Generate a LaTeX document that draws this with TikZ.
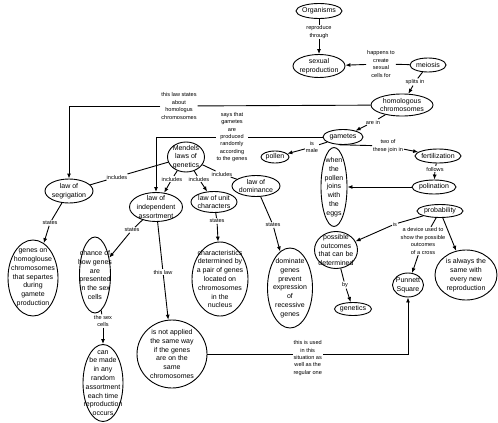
\documentclass[tikz,border=0pt]{standalone}
\usepackage{fontspec}
\setmainfont{Liberation Sans}
\usetikzlibrary{shapes.geometric, arrows.meta, positioning, calc}

\begin{document}
\begin{tikzpicture}[
    x=1pt, y=-1pt,
    concept/.style 2 args={ellipse, draw, line width=0.9pt, inner sep=0pt, minimum width=#1, minimum height=#2},
    ctext/.style={align=center, inner sep=0pt, font=\fontsize{7}{8.8}\selectfont},
    link/.style={fill=white, inner sep=0.8pt, align=center, font=\fontsize{5.6}{7.4}\selectfont},
    arrow/.style={-{Latex[length=5pt, width=4pt]}, line width=0.9pt},
    plain/.style={line width=0.9pt}
]
\useasboundingbox (0,0) rectangle (498,423);

% Nodes
\node [concept={46}{15}, label={[ctext]center:Organisms}] (org) at (319,11) {};
\node [concept={52}{23}, label={[ctext]center:{sexual\\reproduction}}] (sexrep) at (319,66) {};
\node [concept={36}{14}, label={[ctext]center:meiosis}] (meiosis) at (428,65) {};
\node [concept={62}{22}, label={[ctext]center:{homologous\\chromosomes}}] (homol) at (402,105) {};
\node [concept={40}{15}, label={[ctext]center:gametes}] (gametes) at (343,137) {};
\node [concept={28}{12}, label={[ctext]center:pollen}] (pollen) at (275,157) {};
\node [concept={46}{14}, label={[ctext]center:fertilization}] (fertil) at (438,156) {};
\node [concept={44}{14}, label={[ctext]center:polination}] (pollin) at (434,187) {};
\node [concept={26}{79}, label={[ctext]center:{when\\the\\pollen\\joins\\with\\the\\eggs}}] (when) at (334,187) {};
\node [concept={46}{13}, label={[ctext]center:probability}] (prob) at (440,211) {};
\node [concept={43}{37}, label={[ctext]center:{possible\\outcomes\\that can be\\determined}}] (possible) at (336,250) {};
\node [concept={37}{13}, label={[ctext]center:genetics}] (genetics) at (353,309) {};
\node [concept={31}{24}, label={[ctext]center:{Punnett\\Square}}] (punnett) at (408,285) {};
\node [concept={62}{50}, label={[ctext]center:{is always the\\same with\\every new\\reproduction}}] (always) at (466,275) {};

\node [concept={37}{30}, label={[ctext]center:{Mendels\\laws of\\genetics}}] (mendel) at (186,157) {};
\node [concept={48}{24}, label={[ctext]center:{law of\\segrigation}}] (lawseg) at (69,191) {};
\node [concept={53}{29}, label={[ctext]center:{law of\\independent\\assortment}}] (lawind) at (156,207) {};
\node [concept={46}{21}, label={[ctext]center:{law of unit\\characters}}] (unitch) at (214,202) {};
\node [concept={48}{21}, label={[ctext]center:{law of\\dominance}}] (lawdom) at (256,186) {};

\node [concept={50}{76}, label={[ctext]center:{genes on\\homoglouse\\chromosomes\\that separtes\\during\\gamete\\production}}] (genes) at (33,278) {};
\node [concept={31}{76}, label={[ctext]center:{chance of\\how genes\\are\\presented\\in the sex\\cells}}] (chance) at (95,275) {};
\node [concept={40}{77}, label={[ctext]center:{can\\be made\\in any\\random\\assortment\\each time\\reproduction\\occurs}}] (canbe) at (103,383) {};
\node [concept={70}{68}, label={[ctext]center:{is not applied\\the same way\\if the genes\\are on the\\same\\chromosomes}}] (notapp) at (172,354) {};
\node [concept={56}{74}, label={[ctext]center:{characteristics\\determined by\\a pair of genes\\located on\\chromosomes\\in the\\nucleus}}] (charact) at (220,279) {};
\node [concept={45}{80}, label={[ctext]center:{dominate\\genes\\prevent\\expression\\of\\recessive\\genes}}] (domin) at (290,288) {};

% Linking phrases
\node [link] (reproduce) at (319,32) {reproduce\\through};
\node [link] (happens) at (381,64) {happens to\\create\\sexual\\cells for};
\node [link] (splits) at (415,82) {splits in};
\node [link] (arein) at (373,122) {are in};
\node [link] (ismale) at (312,147) {is\\male};
\node [link] (twoof) at (388,146) {two of\\these join in};
\node [link] (follows) at (435,169) {follows};
\node [link] (is) at (395,224) {is};
\node [link] (device) at (423,241) {a device used to\\show the possible\\outcomes\\of a cross};
\node [link] (by) at (345,285) {by};
\node [link] (lawstates) at (179,106) {this law states\\about\\homologus\\chromosomes};
\node [link] (saysthat) at (232,137) {says that\\gametes\\are\\produced\\randomly\\according\\to the genes};
\node [link] (incseg) at (117,177) {includes};
\node [link] (incind) at (172,179) {includes};
\node [link] (incunit) at (199,179) {includes};
\node [link] (incdom) at (222,174) {includes};
\node [link] (segstates) at (50,223) {states};
\node [link] (indstates) at (132,230) {states};
\node [link] (sexcells) at (103,321) {the sex\\cells};
\node [link] (thislaw) at (163,272) {this law};
\node [link] (unitstates) at (217,221) {states};
\node [link] (domstates) at (273,225) {states};

% Primary paths
\draw [plain] (org) -- (reproduce);
\draw [arrow] (reproduce) -- (sexrep);
\draw [plain] (meiosis) -- (happens);
\draw [arrow] (happens) -- (sexrep);
\draw [plain] (meiosis) -- (splits);
\draw [arrow] (splits) -- (homol);
\draw [plain] (homol) -- (arein);
\draw [arrow] (arein) -- (gametes);
\draw [plain] (gametes) -- (ismale);
\draw [arrow] (ismale) -- (pollen);
\draw [plain] (gametes.240) -- (twoof);
\draw [arrow] (twoof) -- (fertil);
\draw [plain] (fertil) -- (follows);
\draw [arrow] (follows) -- (pollin);
\draw [arrow] (pollin) -- (when);
\draw [plain] (prob) -- (is);
\draw [arrow] (is) -- (possible);
\draw [plain] (prob) -- (device);
\draw [arrow] (device) -- (punnett);
\draw [arrow] (prob) -- (always);
\draw [plain] (possible) -- (by);
\draw [arrow] (by) -- (genetics);

% Mendel's laws
\draw [plain] (homol) -- (lawstates);
\draw [arrow] (lawstates) -| (lawseg);
\draw [plain] (gametes) -- (saysthat);
\draw [arrow] (saysthat) -| (lawind);
\draw [plain] (mendel) -- (incseg) -- (lawseg);
\draw [plain] (mendel) -- (incind);
\draw [arrow] (incind) -- (lawind);
\draw [plain] (mendel) -- (incunit);
\draw [arrow] (incunit) -- (unitch);
\draw [plain] (mendel) -- (incdom) -- (lawdom);

% What the laws state
\draw [plain] (lawseg) -- (segstates);
\draw [arrow] (segstates) -- (genes);
\draw [plain] (lawind) -- (indstates);
\draw [arrow] (indstates) -- (chance);
\draw [plain] (chance) -- (sexcells);
\draw [arrow] (sexcells) -- (canbe);
\draw [plain] (lawind) -- (thislaw);
\draw [arrow] (thislaw) -- (notapp);
\draw [plain] (unitch) -- (unitstates);
\draw [arrow] (unitstates) -- (charact);
\draw [plain] (lawdom) -- (domstates);
\draw [arrow] (domstates) -- (domin);

% Back to the Punnett square
\draw [arrow] (notapp.east) -- node[link, yshift=-4pt] (usedlbl) {this is used\\in this\\situation as\\well as the\\regular one}
    (notapp.east -| punnett.south) -- (punnett.south);

\end{tikzpicture}
\end{document}
